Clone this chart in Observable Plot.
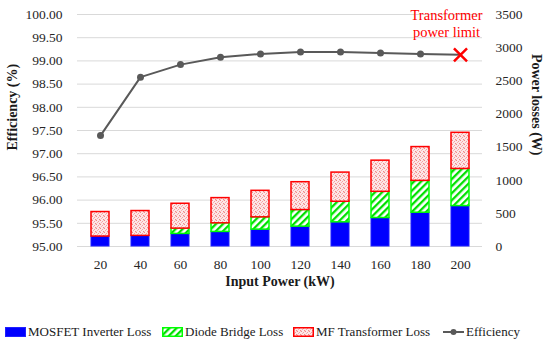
<!DOCTYPE html>
<html><head><meta charset="utf-8">
<script src="https://cdn.jsdelivr.net/npm/d3@7"></script>
<script src="https://cdn.jsdelivr.net/npm/@observablehq/plot@0.6"></script>
<style>
body{margin:0;background:#fff;font-family:"Times New Roman",serif;width:550px;height:350px;overflow:hidden}
#legend{position:relative;height:40px;font-size:13px;color:#1a1a1a}
.item{position:absolute;top:14px;display:flex;align-items:center;white-space:nowrap}
.item svg{margin-right:2px}
</style></head><body>
<svg width="0" height="0" style="position:absolute"><defs>
<pattern id="hatch" patternUnits="userSpaceOnUse" width="5" height="5" patternTransform="rotate(45)">
<rect width="5" height="5" fill="#fff"/><rect width="2.3" height="5" fill="#00e000"/></pattern>
<pattern id="stipple" patternUnits="userSpaceOnUse" width="4" height="4">
<rect width="4" height="4" fill="#fde8e8"/>
<rect x="0" y="0" width="1" height="1" fill="#f08a8a"/><rect x="2" y="1" width="1" height="1" fill="#f4a0a0"/>
<rect x="1" y="2" width="1" height="1" fill="#f6b0b0"/><rect x="3" y="3" width="1" height="1" fill="#f08a8a"/>
<rect x="3" y="0" width="1" height="1" fill="#fad0d0"/><rect x="0" y="3" width="1" height="1" fill="#fad0d0"/>
</pattern>
</defs></svg>
<div id="chart"></div>
<div id="legend"></div>
<script>
const power = [20, 40, 60, 80, 100, 120, 140, 160, 180, 200];
const mosfetLoss = [150, 160, 190, 220, 255, 300, 365, 430, 510, 610];
const diodeLoss = [0, 0, 80, 130, 185, 250, 310, 395, 480, 560];
const transformerLoss = [370, 375, 375, 380, 400, 420, 440, 470, 510, 545];
const efficiency = [97.39, 98.65, 98.92, 99.08, 99.15, 99.19, 99.19, 99.17, 99.15, 99.13];
const effTicks = [95, 95.5, 96, 96.5, 97, 97.5, 98, 98.5, 99, 99.5, 100];
const lossTicks = [0, 500, 1000, 1500, 2000, 2500, 3000, 3500];

// secondary axis mapping: losses (W) -> efficiency units
const base = 95, wPerUnit = 700;
const toY = w => base + w / wPerUnit;

const series = [
  {name: "MOSFET Inverter Loss", vals: mosfetLoss},
  {name: "Diode Bridge Loss", vals: diodeLoss},
  {name: "MF Transformer Loss", vals: transformerLoss}
];
const rows = [];
power.forEach((p, i) => {
  let cum = 0;
  series.forEach(s => {
    const v = s.vals[i];
    rows.push({power: p, type: s.name, y1: toY(cum), y2: toY(cum + v), v});
    cum += v;
  });
});
const effRows = power.map((p, i) => ({power: p, eff: efficiency[i]}));
const lastRow = effRows[effRows.length - 1];
const serif = "'Times New Roman', serif";

const chart = Plot.plot({
  width: 550,
  height: 310,
  marginLeft: 77,
  marginRight: 68,
  marginTop: 14,
  marginBottom: 64,
  style: {fontFamily: serif, fontSize: "13px", color: "#262626", background: "#fff"},
  x: {type: "band", domain: power, paddingInner: 0.55, paddingOuter: 0.275},
  y: {domain: [95, 100]},
  marks: [
    Plot.gridY(effTicks, {stroke: "#d9d9d9", strokeOpacity: 1, strokeWidth: 1}),
    Plot.barY(rows.filter(d => d.type === series[0].name && d.v > 0), {x: "power", y1: "y1", y2: "y2", fill: "#0000ff", stroke: "#2020ff", strokeWidth: 1}),
    Plot.barY(rows.filter(d => d.type === series[1].name && d.v > 0), {x: "power", y1: "y1", y2: "y2", fill: "url(#hatch)", stroke: "#00ff00", strokeWidth: 1.5}),
    Plot.barY(rows.filter(d => d.type === series[2].name && d.v > 0), {x: "power", y1: "y1", y2: "y2", fill: "url(#stipple)", stroke: "#ff0000", strokeWidth: 1.5}),
    Plot.axisY(effTicks, {anchor: "left", tickSize: 0, tickPadding: 15, tickFormat: d3.format(".2f"), label: null, fontSize: 13.5}),
    Plot.axisY(lossTicks.map(toY), {anchor: "right", tickSize: 0, tickPadding: 13, tickFormat: v => String(Math.round((v - base) * wPerUnit)), label: null, fontSize: 13.5}),
    Plot.axisX({tickSize: 0, tickPadding: 13, label: null, fontSize: 13.5}),
    Plot.text(["Input Power (kW)"], {frameAnchor: "bottom", dy: 39, fontWeight: "bold", fontSize: 14, fill: "#1a1a1a"}),
    Plot.text(["Efficiency (%)"], {frameAnchor: "left", dx: -65, dy: 20, rotate: -90, fontWeight: "bold", fontSize: 14, fill: "#1a1a1a"}),
    Plot.text(["Power losses (W)"], {frameAnchor: "right", dx: 54, dy: 25, rotate: 90, fontWeight: "bold", fontSize: 14, fill: "#1a1a1a"}),
    Plot.line(effRows, {x: "power", y: "eff", stroke: "#595959", strokeWidth: 2}),
    Plot.dot(effRows.slice(0, -1), {x: "power", y: "eff", r: 3.5, fill: "#595959", stroke: "none"}),
    Plot.dot([lastRow], {x: "power", y: "eff", symbol: "times", r: 6, stroke: "#ff0000", strokeWidth: 2.5}),
    Plot.text([lastRow], {x: "power", y: "eff", text: () => "Transformer\npower limit", dx: -14, dy: -32, lineAnchor: "middle", lineHeight: 1.2, fill: "#ff0000", fontSize: 14.5})
  ]
});
document.getElementById("chart").appendChild(chart);

// legend
const legend = document.getElementById("legend");
const items = [
  {label: series[0].name, left: 5, swatch: '<rect x="0.5" y="0.5" width="20" height="9" fill="#0000ff" stroke="#2020ff"/>'},
  {label: series[1].name, left: 162, swatch: '<rect x="0.75" y="0.75" width="19.5" height="8.5" fill="url(#hatch)" stroke="#00ff00" stroke-width="1.5"/>'},
  {label: series[2].name, left: 293, swatch: '<rect x="0.75" y="0.75" width="19.5" height="8.5" fill="url(#stipple)" stroke="#ff0000" stroke-width="1.5"/>'},
  {label: "Efficiency", left: 443, swatch: '<line x1="0" x2="21" y1="5" y2="5" stroke="#595959" stroke-width="2"/><circle cx="10.5" cy="5" r="3" fill="#595959"/>'}
];
for (const it of items) {
  const div = document.createElement("div");
  div.className = "item";
  div.style.left = it.left + "px";
  div.innerHTML = `<svg width="21" height="10">${it.swatch}</svg><span>${it.label}</span>`;
  legend.appendChild(div);
}
</script>
</body></html>
